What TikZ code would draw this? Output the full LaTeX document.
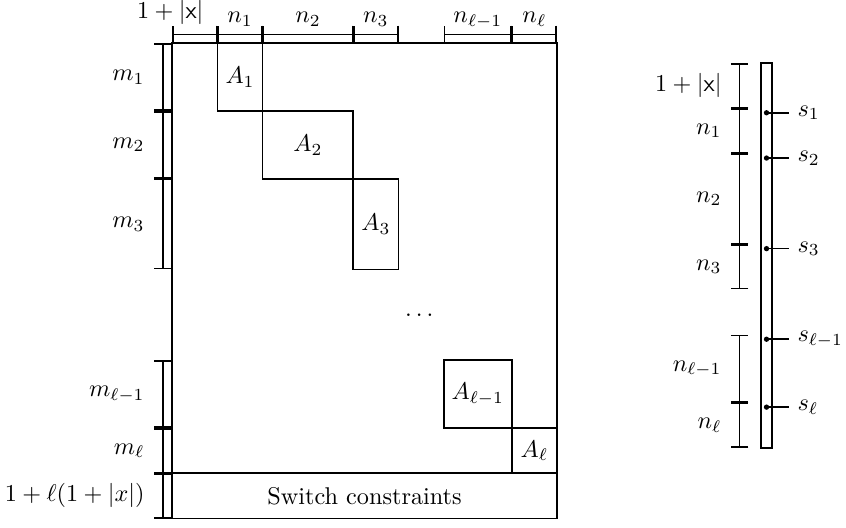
\documentclass[tikz,border=0pt]{standalone}
\usepackage{tikz}
\usetikzlibrary{arrows.meta}
\usepackage{amsmath}

\tikzset{
	blockline/.style={line width=0.65pt},
	dimline/.style={line width=0.65pt, {Bar[width=7.2pt]}-{Bar[width=7.2pt]}},
}

\begin{document}
\begin{tikzpicture}[x=0.657cm, y=0.657cm] % block structure of the constraint matrix
	\useasboundingbox (-3.80,-10.69) rectangle (14.88,0.95);
	
	%matrix outline
	\draw[blockline] (0,0) rectangle (8.5,-10.5);
	\draw[blockline] (0,-9.5) -- (8.5,-9.5);
	
	%diagonal blocks
	\draw[blockline] (1,0) rectangle (2,-1.5);
	\draw[blockline] (2,-1.5) rectangle (4,-3);
	\draw[blockline] (4,-3) rectangle (5,-5);
	\draw[blockline] (6,-7) rectangle (7.5,-8.5);
	\draw[blockline] (7.5,-8.5) rectangle (8.5,-9.5);
	
	%column widths
	\draw[dimline] (0,0.19) -- (1,0.19);
	\draw[dimline] (1,0.19) -- (2,0.19);
	\draw[dimline] (2,0.19) -- (4,0.19);
	\draw[dimline] (4,0.19) -- (5,0.19);
	\draw[dimline] (6,0.19) -- (7.5,0.19);
	\draw[dimline] (7.5,0.19) -- (8.5,0.19);
	
	%row heights
	\draw[dimline] (-0.2,0) -- (-0.2,-1.5);
	\draw[dimline] (-0.2,-1.5) -- (-0.2,-3);
	\draw[dimline] (-0.2,-3) -- (-0.2,-5);
	\draw[dimline] (-0.2,-7) -- (-0.2,-8.5);
	\draw[dimline] (-0.2,-8.5) -- (-0.2,-9.5);
	\draw[dimline] (-0.2,-9.5) -- (-0.2,-10.5);
	
	%vector
	\draw[blockline] (13,-0.44) rectangle (13.25,-8.94);
	
	\draw[dimline] (12.53,-0.44) -- (12.53,-1.44);
	\draw[dimline] (12.53,-1.44) -- (12.53,-2.44);
	\draw[dimline] (12.53,-2.44) -- (12.53,-4.44);
	\draw[dimline] (12.53,-4.44) -- (12.53,-5.44);
	\draw[dimline] (12.53,-6.44) -- (12.53,-7.94);
	\draw[dimline] (12.53,-7.94) -- (12.53,-8.94);
	
	%switch entries
	\fill (13.125,-1.54) circle (1.1pt);
	\fill (13.125,-2.54) circle (1.1pt);
	\fill (13.125,-4.54) circle (1.1pt);
	\fill (13.125,-6.54) circle (1.1pt);
	\fill (13.125,-8.04) circle (1.1pt);
	\draw[blockline] (13.125,-1.54) -- (13.62,-1.54);
	\draw[blockline] (13.125,-2.54) -- (13.62,-2.54);
	\draw[blockline] (13.125,-4.54) -- (13.62,-4.54);
	\draw[blockline] (13.125,-6.54) -- (13.62,-6.54);
	\draw[blockline] (13.125,-8.04) -- (13.62,-8.04);
	
	%labels
	\node (A1) at (1.5,-0.75) {$A_1$};
	\node (A2) at (3,-2.25) {$A_2$};
	\node (A3) at (4.5,-4) {$A_3$};
	\node (Alm) at (6.75,-7.75) {$A_{\ell-1}$};
	\node (Al) at (8,-9) {$A_\ell$};
	\node (dots) at (5.5,-6) {$\dots$};
	\node (switch) at (4.25,-10) {Switch constraints};
	
	\node[anchor=base, inner sep=0pt] (cx) at (-0.04,0.54) {$1+|\mathsf{x}|$};
	\node[anchor=base] (cn1) at (1.5,0.45) {$n_1$};
	\node[anchor=base] (cn2) at (3,0.45) {$n_2$};
	\node[anchor=base] (cn3) at (4.5,0.45) {$n_3$};
	\node[anchor=base] (cnlm) at (6.75,0.45) {$n_{\ell-1}$};
	\node[anchor=base] (cnl) at (8,0.45) {$n_\ell$};
	
	\node[left] (rm1) at (-0.42,-0.75) {$m_1$};
	\node[left] (rm2) at (-0.42,-2.25) {$m_2$};
	\node[left] (rm3) at (-0.42,-4) {$m_3$};
	\node[left] (rmlm) at (-0.42,-7.75) {$m_{\ell-1}$};
	\node[left] (rml) at (-0.42,-9) {$m_\ell$};
	\node[left] (rsw) at (-0.42,-10) {$1+\ell(1+|x|)$};
	
	\node[left] (vx) at (12.32,-0.94) {$1+|\mathsf{x}|$};
	\node[left] (vn1) at (12.32,-1.94) {$n_1$};
	\node[left] (vn2) at (12.32,-3.44) {$n_2$};
	\node[left] (vn3) at (12.32,-4.94) {$n_3$};
	\node[left] (vnlm) at (12.32,-7.19) {$n_{\ell-1}$};
	\node[left] (vnl) at (12.32,-8.44) {$n_\ell$};
	
	\node[right] (s1) at (13.62,-1.54) {$s_1$};
	\node[right] (s2) at (13.62,-2.54) {$s_2$};
	\node[right] (s3) at (13.62,-4.54) {$s_3$};
	\node[right] (slm) at (13.62,-6.54) {$s_{\ell-1}$};
	\node[right] (sl) at (13.62,-8.04) {$s_\ell$};
	
\end{tikzpicture}
\end{document}
